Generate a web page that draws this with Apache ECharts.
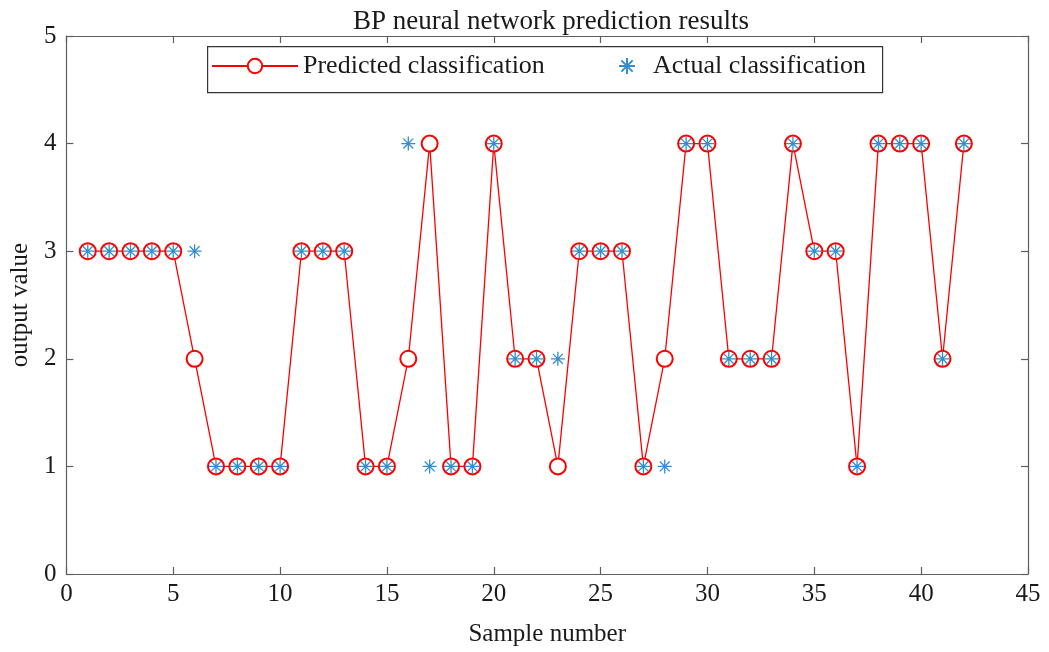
<!DOCTYPE html>
<html>
<head>
<meta charset="utf-8">
<script src="https://cdn.jsdelivr.net/npm/echarts@6/dist/echarts.min.js"></script>
<style>html,body{margin:0;padding:0;background:#fff}#c{width:1049px;height:652px}</style>
</head>
<body>
<div id="c"></div>
<script>
const samples = Array.from({length: 42}, (_, i) => i + 1);
const predicted = [3,3,3,3,3,2,1,1,1,1,3,3,3,1,1,2,4,1,1,4,2,2,1,3,3,3,1,2,4,4,2,2,2,4,3,3,1,4,4,4,2,4];
const actual    = [3,3,3,3,3,3,1,1,1,1,3,3,3,1,1,4,1,1,1,4,2,2,2,3,3,3,1,1,4,4,2,2,2,4,3,3,1,4,4,4,2,4];
const seriesNames = ['Predicted classification', 'Actual classification'];

const FONT = '"Liberation Serif", "DejaVu Serif", serif';
const axisCol = '#5f5f5f';
const star = 'path://M0,-10L0,10M-10,0L10,0M-7.07,-7.07L7.07,7.07M-7.07,7.07L7.07,-7.07';

const chart = echarts.init(document.getElementById('c'), null, {renderer: 'canvas'});
function axis(extra) {
  return Object.assign({
    type: 'value',
    axisLine: {show: true, onZero: false, lineStyle: {color: axisCol, width: 1.2}},
    axisTick: {show: true, inside: true, length: 7, lineStyle: {color: axisCol, width: 1.2}},
    splitLine: {show: false}
  }, extra);
}
const labelStyle = {fontFamily: FONT, fontSize: 25, color: '#1a1a1a'};
const legendText = {fontFamily: FONT, fontSize: 26, color: '#1a1a1a'};
chart.setOption({
  animation: false,
  backgroundColor: '#fff',
  title: {
    text: 'BP neural network prediction results',
    left: 546, top: 3, textAlign: 'center',
    textStyle: {fontFamily: FONT, fontSize: 27, fontWeight: 'normal', color: '#1a1a1a'}
  },
  graphic: [{
    type: 'rect', left: 207, top: 46, z: 10,
    shape: {width: 675, height: 46},
    style: {fill: '#fff', stroke: '#333', lineWidth: 1.2}
  }],
  legend: [
    {
      left: 211, top: 53, z: 11, padding: 0,
      data: [seriesNames[0]],
      itemWidth: 86, itemHeight: 18, itemGap: 0,
      textStyle: legendText
    },
    {
      left: 618, top: 53, z: 11, padding: 0,
      data: [seriesNames[1]],
      itemWidth: 42, itemHeight: 16, itemGap: 0,
      textStyle: legendText
    }
  ],
  grid: {left: 64, right: 21, top: 36, bottom: 77},
  xAxis: [
    axis({
      min: 0, max: 45, interval: 5, position: 'bottom',
      name: 'Sample number', nameLocation: 'middle', nameGap: 48,
      nameTextStyle: labelStyle,
      axisLabel: Object.assign({margin: 8}, labelStyle)
    }),
    axis({min: 0, max: 45, interval: 5, position: 'top', axisLabel: {show: false}})
  ],
  yAxis: [
    axis({
      min: 0, max: 5, interval: 1, position: 'left',
      name: 'output value', nameLocation: 'middle', nameGap: 30,
      nameTextStyle: labelStyle,
      axisLabel: Object.assign({margin: 10}, labelStyle)
    }),
    axis({min: 0, max: 5, interval: 1, position: 'right', axisLabel: {show: false}})
  ],
  series: [
    {
      name: seriesNames[0], type: 'line',
      data: samples.map((s, i) => [s, predicted[i]]),
      symbol: 'emptyCircle', symbolSize: 16, showAllSymbol: true,
      lineStyle: {color: '#ff0000', width: 1.3},
      itemStyle: {color: '#ff0000', borderColor: '#ff0000', borderWidth: 1.3},
      z: 2
    },
    {
      name: seriesNames[1], type: 'scatter',
      data: samples.map((s, i) => [s, actual[i]]),
      symbol: star, symbolSize: 14,
      itemStyle: {color: '#0072BD', borderColor: '#0072BD', borderWidth: 1.3},
      z: 3
    }
  ]
});
</script>
</body>
</html>
